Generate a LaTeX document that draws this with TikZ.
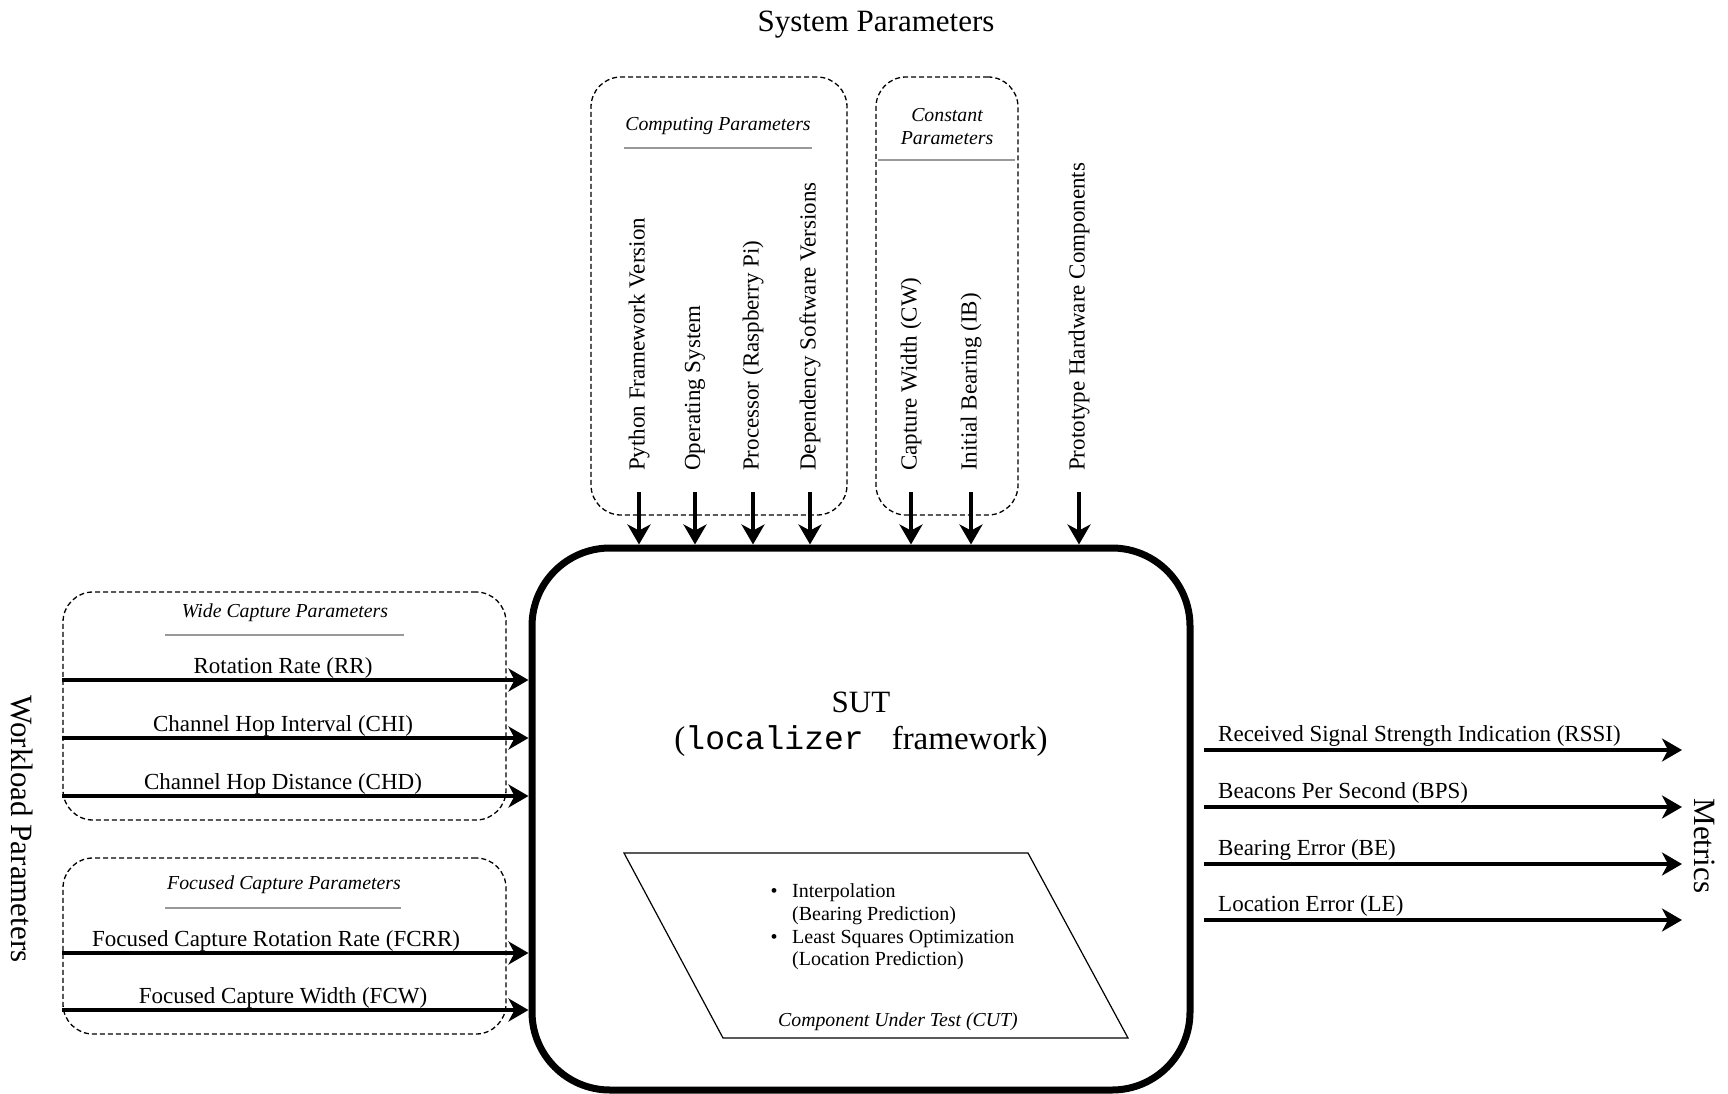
\documentclass[tikz,border=0pt]{standalone}
\usepackage{fontspec}
\setmainfont{Liberation Serif}
\setmonofont{Liberation Mono}
\usetikzlibrary{arrows.meta,calc}
\begin{document}
\begin{tikzpicture}[x=1pt,y=-1pt,
  lab/.style={font=\fontsize{23}{27}\selectfont, inner sep=0pt},
  ital/.style={font=\fontsize{19.8}{23}\selectfont\itshape, inner sep=0pt},
  cut/.style={font=\fontsize{20}{22.5}\selectfont, inner sep=0pt},
  title/.style={font=\fontsize{31}{37}\selectfont, inner sep=0pt},
  grp/.style={draw, dash pattern=on 5pt off 3pt, line width=1.3pt, rounded corners=30pt, inner sep=0pt},
  sep/.style={draw=black!40, line width=2pt},
  arr/.style={line width=4pt, -{Stealth[length=20pt,width=23pt,inset=6pt]}},
  vlab/.style={lab, rotate=90, anchor=west},
]
\useasboundingbox (0,0) rectangle (1728,1094);

% main system box
\node[draw, line width=7pt, rounded corners=78pt, minimum width=658pt, minimum height=542pt, inner sep=0pt] (SUT) at (861,819) {};
\node[title] (sut1) at (861,702) {SUT};
\node[font=\fontsize{33}{39}\selectfont, inner sep=0pt] (sut2) at (861,741) {({\ttfamily localizer\ } framework)};

% titles
\node[title] (sys) at (876,25) {System Parameters};
\node[title, rotate=-90] (wl) at (22,829) {Workload Parameters};
\node[title, rotate=-90] (met) at (1705,846) {Metrics};

% group boxes
\node[grp, minimum width=256pt, minimum height=438pt] (comp) at (719,296) {};
\node[grp, minimum width=142pt, minimum height=438pt] (const) at (947,296) {};
\node[grp, minimum width=443pt, minimum height=228pt] (wide) at (284.5,706) {};
\node[grp, minimum width=443pt, minimum height=176pt] (foc) at (284.5,946) {};

% group titles
\node[ital] (compt) at (718,126) {Computing Parameters};
\draw[sep] (624,148) -- (812,148);
\node[ital, align=center] (constt) at (947,126.4) {Constant\\Parameters};
\draw[sep] (878,160) -- (1015,160);
\node[ital] (widet) at (285,613) {Wide Capture Parameters};
\draw[sep] (165,634.5) -- (404,634.5);
\node[ital] (foct) at (284,885) {Focused Capture Parameters};
\draw[sep] (165,908) -- (401,908);

% top inputs
\foreach \n/\x/\t in {p1/639/Python Framework Version, p2/695/Operating System, p3/753/Processor (Raspberry Pi), p4/810/Dependency Software Versions, p5/911/Capture Width (CW), p6/971/Initial Bearing (IB), p7/1079/Prototype Hardware Components}{
  \node[vlab] (\n) at (\x,471) {\t};
  \draw[arr] ([yshift=-21pt]\n.west) -- (SUT.north -| \n.west);
}

% left inputs (wide)
\foreach \n/\y/\lx/\t in {l1/680/283/Rotation Rate (RR), l2/738/283/Channel Hop Interval (CHI), l3/796/283/Channel Hop Distance (CHD)}{
  \coordinate (\n-y) at (0,\y);
  \node[lab, anchor=base] (\n) at (\lx,\y-7) {\t};
  \draw[arr] (wide.west |- \n-y) -- (SUT.west |- \n-y);
}
% left inputs (focused)
\foreach \n/\y/\lx/\t in {l4/953/276/Focused Capture Rotation Rate (FCRR), l5/1010/283/Focused Capture Width (FCW)}{
  \coordinate (\n-y) at (0,\y);
  \node[lab, anchor=base] (\n) at (\lx,\y-7) {\t};
  \draw[arr] (foc.west |- \n-y) -- (SUT.west |- \n-y);
}

% outputs
\foreach \n/\y/\t in {m1/750/Received Signal Strength Indication (RSSI), m2/807/Beacons Per Second (BPS), m3/864/Bearing Error (BE), m4/920/Location Error (LE)}{
  \coordinate (\n-y) at (1682,\y);
  \node[lab, anchor=base west] (\n) at (1218,\y-9) {\t};
  \draw[arr, shorten <=10.5pt] (SUT.east |- \n-y) -- (\n-y);
}

% component under test
\coordinate (c1) at (624,853);
\coordinate (c2) at (1028,853);
\coordinate (c3) at (1128,1038);
\coordinate (c4) at (723,1038);
\draw[line width=1.2pt] (c1) -- (c2) -- (c3) -- (c4) -- cycle;
\node[cut, anchor=base] (b1) at (774,897) {\textbullet};
\node[cut, anchor=base west] (i1) at (792,897) {Interpolation};
\node[cut, anchor=base west] (i2) at (792,920) {(Bearing Prediction)};
\node[cut, anchor=base] (b2) at (774,943) {\textbullet};
\node[cut, anchor=base west] (i3) at (792,943) {Least Squares Optimization};
\node[cut, anchor=base west] (i4) at (792,965) {(Location Prediction)};
\node[ital] (cutl) at (898,1022) {Component Under Test (CUT)};
\end{tikzpicture}
\end{document}
